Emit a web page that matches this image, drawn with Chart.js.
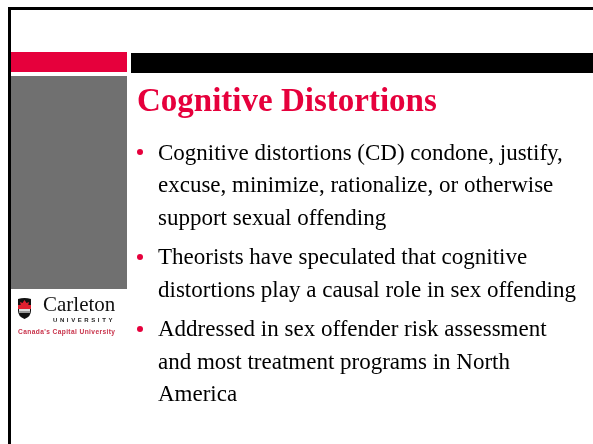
<!DOCTYPE html>
<html>
<head>
<meta charset="utf-8">
<script src="https://cdn.jsdelivr.net/npm/chart.js@4/dist/chart.umd.min.js"></script>
<style>
  html, body { margin: 0; padding: 0; background: #fff; overflow: hidden; }
  #slide { position: relative; width: 593px; height: 444px; }
  #slideCanvas { position: absolute; left: 0; top: 0; }
  .txt { position: absolute; white-space: nowrap; font-family: "Liberation Serif", "Times New Roman", serif; }
  .title { font-weight: bold; color: #e6003c; }
  .dot { position: absolute; width: 6px; height: 6px; border-radius: 50%; background: #e6003c; }
  .logo { position: absolute; white-space: nowrap; }
</style>
</head>
<body>
<div id="slide">
  <canvas id="slideCanvas" width="593" height="444"></canvas>
  <div id="textLayer"></div>
</div>
<script>
// slide text
const titleText = 'Cognitive Distortions';
const bulletLines = [
  ['Cognitive distortions (CD) condone, justify,', 'excuse, minimize, rationalize, or otherwise', 'support sexual offending'],
  ['Theorists have speculated that cognitive', 'distortions play a causal role in sex offending'],
  ['Addressed in sex offender risk assessment', 'and most treatment programs in North', 'America']
];
const logoName = 'Carleton';
const logoSub = 'UNIVERSITY';
const logoTag = "Canada's Capital University";

const RED = '#e6003c';

// font ascent offset for Liberation Serif with line-height = font size
function topFor(baseline, size) {
  return baseline - 0.8375 * size;
}

function addText(parent, text, cls, x, baseline, size, extra) {
  const el = document.createElement('div');
  el.className = cls;
  el.textContent = text;
  el.style.left = x + 'px';
  el.style.top = topFor(baseline, size) + 'px';
  el.style.fontSize = size + 'px';
  el.style.lineHeight = size + 'px';
  if (extra) Object.assign(el.style, extra);
  parent.appendChild(el);
  return el;
}

function buildText() {
  const layer = document.getElementById('textLayer');
  addText(layer, titleText, 'txt title', 137, 112, 33);

  let baseline = 160;
  bulletLines.forEach((lines, p) => {
    if (p > 0) baseline += 7;
    const dot = document.createElement('div');
    dot.className = 'dot';
    dot.style.left = '137px';
    dot.style.top = (baseline - 11) + 'px';
    layer.appendChild(dot);
    lines.forEach((line) => {
      addText(layer, line, 'txt', 158, baseline, 23, { color: '#000' });
      baseline += 32.5;
    });
  });

  // logo wordmark
  addText(layer, logoName, 'txt', 43, 312, 21, { color: '#111' });
  addText(layer, logoSub, 'logo', 53, 322, 6, {
    fontFamily: '"Liberation Sans", Arial, sans-serif', fontWeight: 'bold',
    letterSpacing: '2.6px', color: '#222'
  });
  addText(layer, logoTag, 'logo', 18, 335, 6.6, {
    fontFamily: '"Liberation Sans", Arial, sans-serif', fontWeight: 'bold',
    letterSpacing: '0.4px', color: '#c8324a'
  });
}

// slide frame, bars and crest drawn on the chart canvas
const slidePlugin = {
  id: 'slideFrame',
  beforeDraw(chart) {
    const ctx = chart.ctx;
    ctx.save();
    ctx.fillStyle = '#fff';
    ctx.fillRect(0, 0, chart.width, chart.height);

    // outer frame (cut off at right and bottom)
    ctx.fillStyle = '#000';
    ctx.fillRect(8, 7, 593 - 8, 3);
    ctx.fillRect(8, 7, 3, 444 - 7);

    // header bars
    ctx.fillStyle = RED;
    ctx.fillRect(11, 52, 116, 20);
    ctx.fillStyle = '#000';
    ctx.fillRect(131, 53, 462, 20);

    // grey panel
    ctx.fillStyle = '#707070';
    ctx.fillRect(11, 76, 116, 213);

    // crest
    const x = 18, y = 298, w = 13, h = 21;
    ctx.beginPath();
    ctx.moveTo(x, y + 1);
    ctx.quadraticCurveTo(x + w / 2, y - 1, x + w, y + 1);
    ctx.lineTo(x + w, y + h * 0.6);
    ctx.quadraticCurveTo(x + w, y + h * 0.9, x + w / 2, y + h);
    ctx.quadraticCurveTo(x, y + h * 0.9, x, y + h * 0.6);
    ctx.closePath();
    ctx.fillStyle = '#111';
    ctx.fill();
    ctx.save();
    ctx.clip();
    ctx.fillStyle = '#e02030';
    ctx.fillRect(x, y + 7, w, 4);
    ctx.fillStyle = '#ddd';
    ctx.fillRect(x + 1, y + 11, w - 2, 2);
    ctx.fillStyle = '#999';
    ctx.fillRect(x + 1, y + 13, w - 2, 2);
    ctx.restore();
    // maple leaf
    ctx.fillStyle = '#e02030';
    ctx.beginPath();
    ctx.moveTo(x + w / 2, y + 2);
    ctx.lineTo(x + w / 2 + 2, y + 5);
    ctx.lineTo(x + w - 2, y + 4);
    ctx.lineTo(x + w - 3, y + 8);
    ctx.lineTo(x + 3, y + 8);
    ctx.lineTo(x + 2, y + 4);
    ctx.lineTo(x + w / 2 - 2, y + 5);
    ctx.closePath();
    ctx.fill();

    ctx.restore();
  }
};

new Chart(document.getElementById('slideCanvas'), {
  type: 'bar',
  data: { labels: [], datasets: [] },
  options: {
    responsive: false,
    animation: false,
    devicePixelRatio: 1,
    events: [],
    layout: { padding: 0 },
    plugins: { legend: { display: false }, tooltip: { enabled: false } },
    scales: { x: { display: false }, y: { display: false } }
  },
  plugins: [slidePlugin]
});

buildText();
</script>
</body>
</html>
